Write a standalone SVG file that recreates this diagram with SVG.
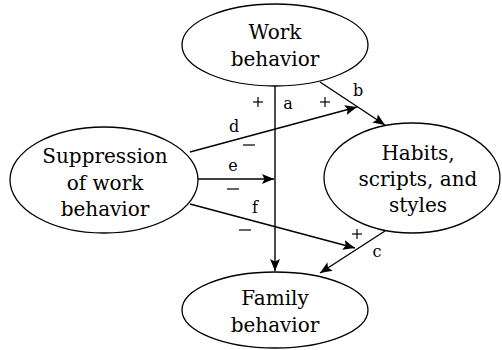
<svg xmlns="http://www.w3.org/2000/svg" width="502" height="350" viewBox="0 0 502 350">
  <defs>
    <style>
      .node ellipse { fill: #fff; stroke: #000; stroke-width: 1.3; }
      .node text { font-family: "DejaVu Serif", "Liberation Serif", serif; font-size: 20px; text-anchor: middle; fill: #000; }
      .edge { stroke: #000; stroke-width: 1.4; fill: none; }
      .lbl { font-family: "DejaVu Serif", "Liberation Serif", serif; font-size: 16px; text-anchor: middle; fill: #000; }
      .sign { stroke: #000; stroke-width: 1.2; }
    </style>
    <marker id="arrow" viewBox="0 0 12 10" refX="12" refY="5" markerWidth="12" markerHeight="10" markerUnits="userSpaceOnUse" orient="auto">
      <path d="M0,0 L12,5 L0,10 L2.5,5 Z" fill="#000"/>
    </marker>
  </defs>

  <rect width="502" height="350" fill="#fff"/>

  <!-- connectors -->
  <g id="connectors">
    <line class="edge" x1="275" y1="86" x2="275" y2="271" marker-end="url(#arrow)"/>
    <line class="edge" x1="320" y1="82" x2="385" y2="125" marker-end="url(#arrow)"/>
    <line class="edge" x1="190" y1="152" x2="357" y2="107" marker-end="url(#arrow)"/>
    <line class="edge" x1="198" y1="179" x2="274" y2="179" marker-end="url(#arrow)"/>
    <line class="edge" x1="190" y1="204" x2="355" y2="248" marker-end="url(#arrow)"/>
    <line class="edge" x1="385" y1="231" x2="320" y2="273" marker-end="url(#arrow)"/>

    <!-- path letters -->
    <text class="lbl" x="288" y="109">a</text>
    <text class="lbl" x="358" y="96">b</text>
    <text class="lbl" x="377" y="257">c</text>
    <text class="lbl" x="234" y="132">d</text>
    <text class="lbl" x="233" y="171">e</text>
    <text class="lbl" x="255" y="213">f</text>

    <!-- signs -->
    <g class="sign">
      <line x1="253" y1="102" x2="263" y2="102"/><line x1="258" y1="97" x2="258" y2="107"/>
      <line x1="320" y1="102" x2="330" y2="102"/><line x1="325" y1="97" x2="325" y2="107"/>
      <line x1="352" y1="234" x2="362" y2="234"/><line x1="357" y1="229" x2="357" y2="239"/>
      <line x1="243" y1="145" x2="255" y2="145"/>
      <line x1="227" y1="189" x2="239" y2="189"/>
      <line x1="239" y1="230" x2="251" y2="230"/>
    </g>
  </g>

  <g id="work" class="node">
    <ellipse cx="275" cy="45" rx="93" ry="41"/>
    <text x="275" y="39">Work</text>
    <text x="275" y="66">behavior</text>
  </g>

  <g id="suppression" class="node">
    <ellipse cx="104" cy="180" rx="94" ry="53"/>
    <text x="105" y="163">Suppression</text>
    <text x="105" y="190">of work</text>
    <text x="105" y="216">behavior</text>
  </g>

  <g id="habits" class="node">
    <ellipse cx="412" cy="178" rx="88" ry="55"/>
    <text x="418" y="160">Habits,</text>
    <text x="418" y="186">scripts, and</text>
    <text x="418" y="212">styles</text>
  </g>

  <g id="family" class="node">
    <ellipse cx="275" cy="310" rx="93" ry="38"/>
    <text x="275" y="305">Family</text>
    <text x="275" y="332">behavior</text>
  </g>
</svg>
